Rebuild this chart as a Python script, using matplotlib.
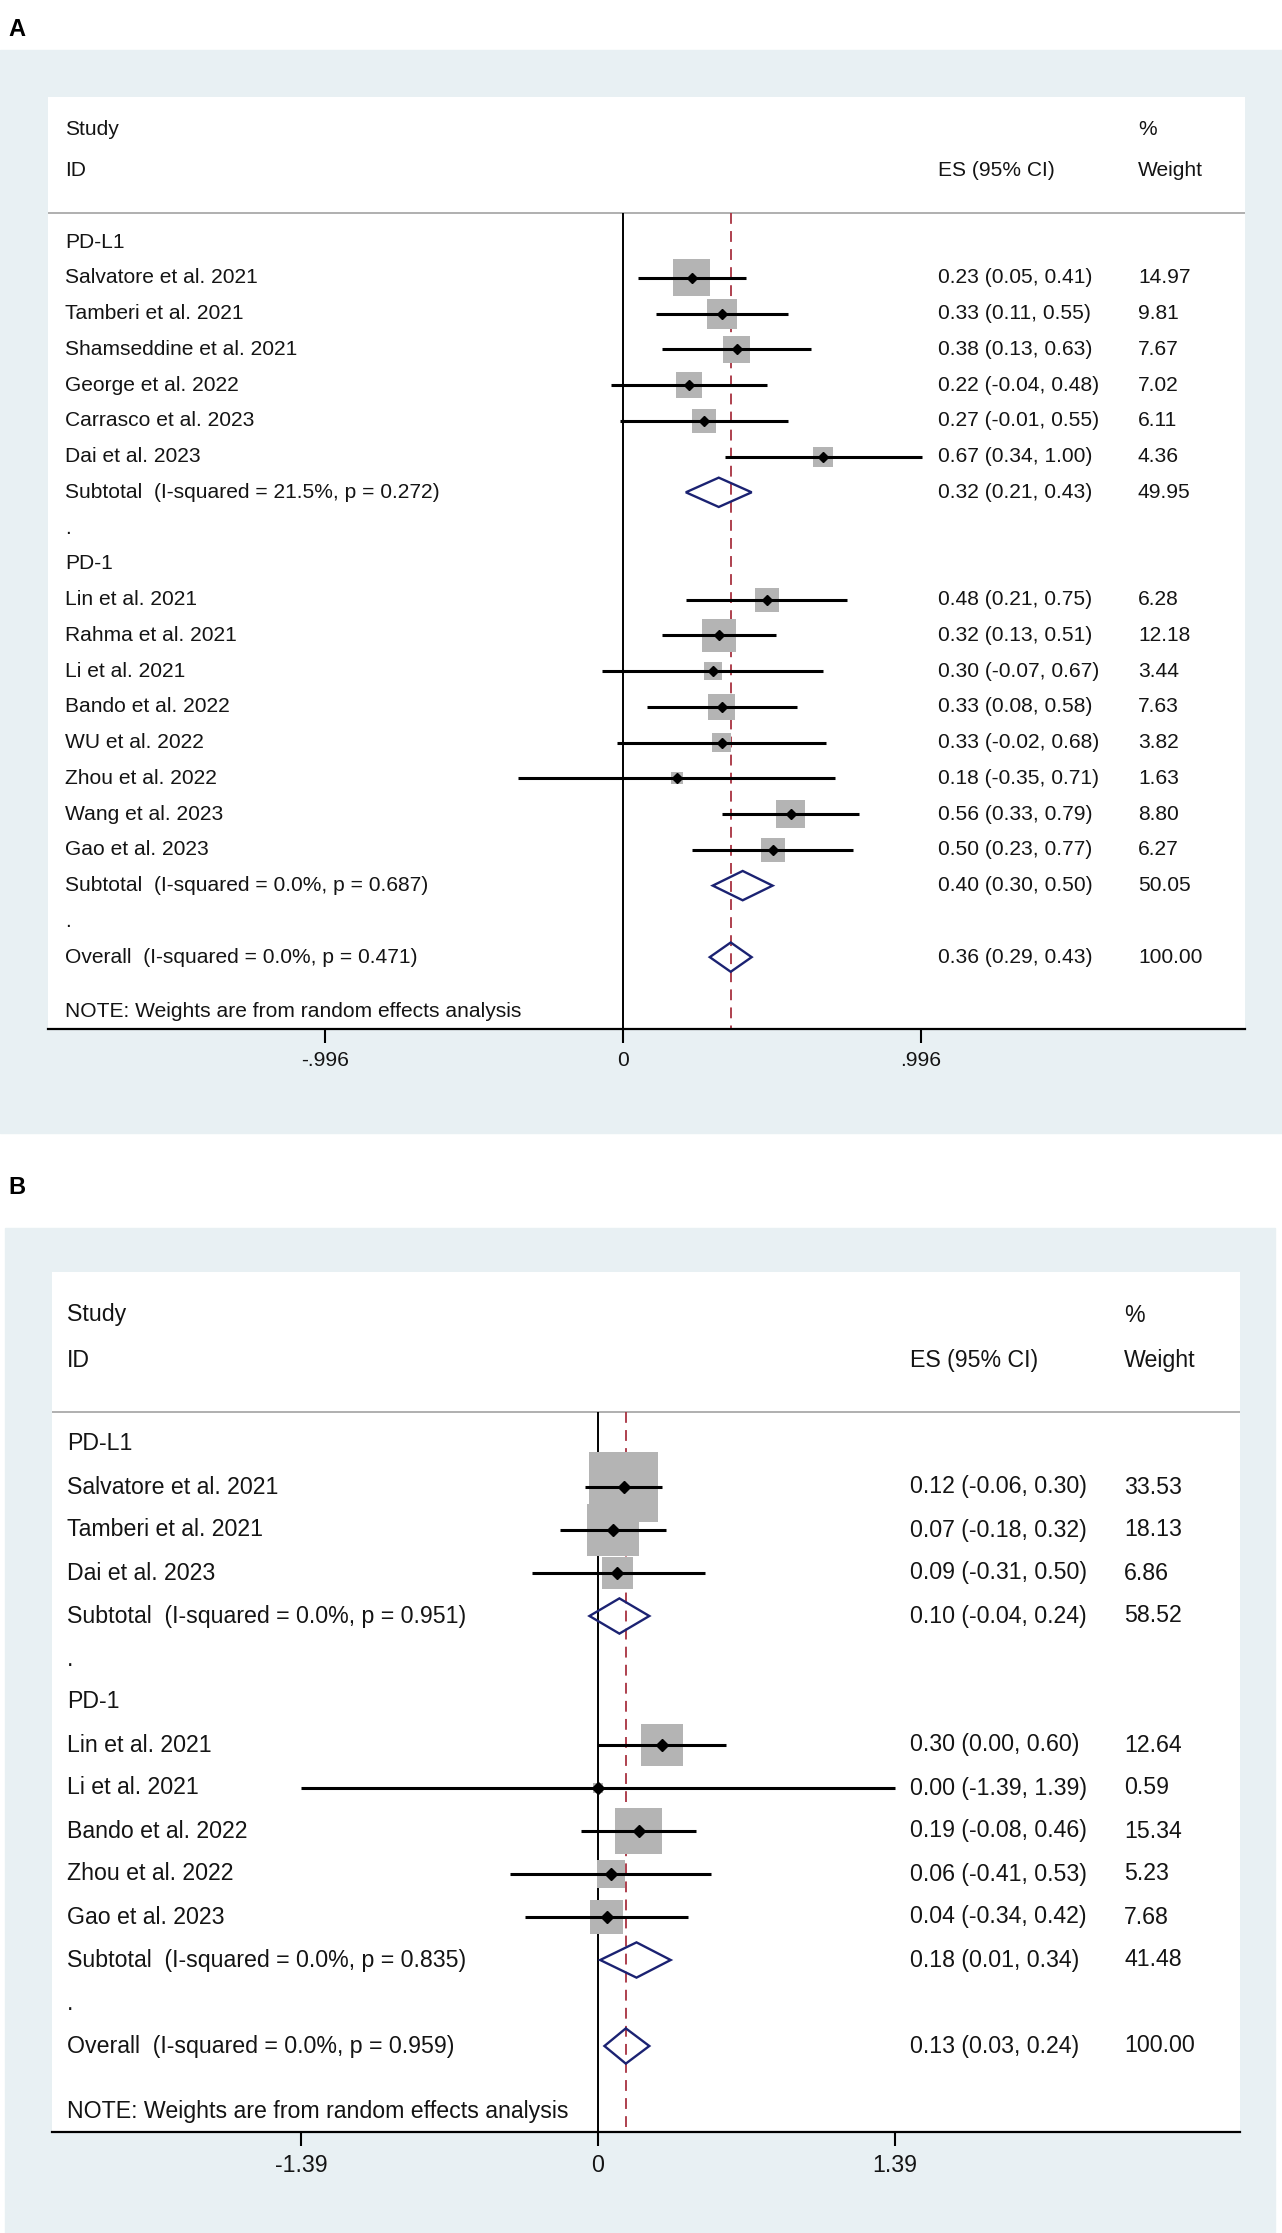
import numpy as np
import matplotlib
matplotlib.use("Agg")
import matplotlib.pyplot as plt
from matplotlib.patches import Rectangle, Polygon
from matplotlib.transforms import blended_transform_factory

plt.rcParams['font.family'] = ['Liberation Sans', 'DejaVu Sans']

# ---- panel A data ----
a_l1_names = ["Salvatore et al. 2021", "Tamberi et al. 2021", "Shamseddine et al. 2021",
              "George et al. 2022", "Carrasco et al. 2023", "Dai et al. 2023"]
a_l1_es = [0.23, 0.33, 0.38, 0.22, 0.27, 0.67]
a_l1_lo = [0.05, 0.11, 0.13, -0.04, -0.01, 0.34]
a_l1_hi = [0.41, 0.55, 0.63, 0.48, 0.55, 1.00]
a_l1_wt = [14.97, 9.81, 7.67, 7.02, 6.11, 4.36]
a_l1_sub = (0.32, 0.21, 0.43, 49.95, "21.5%", "0.272")

a_p1_names = ["Lin et al. 2021", "Rahma et al. 2021", "Li et al. 2021", "Bando et al. 2022",
              "WU et al. 2022", "Zhou et al. 2022", "Wang et al. 2023", "Gao et al. 2023"]
a_p1_es = [0.48, 0.32, 0.30, 0.33, 0.33, 0.18, 0.56, 0.50]
a_p1_lo = [0.21, 0.13, -0.07, 0.08, -0.02, -0.35, 0.33, 0.23]
a_p1_hi = [0.75, 0.51, 0.67, 0.58, 0.68, 0.71, 0.79, 0.77]
a_p1_wt = [6.28, 12.18, 3.44, 7.63, 3.82, 1.63, 8.80, 6.27]
a_p1_sub = (0.40, 0.30, 0.50, 50.05, "0.0%", "0.687")

a_overall = (0.36, 0.29, 0.43, 100.00, "0.0%", "0.471")
a_ticks = [-0.996, 0, 0.996]
a_ticklabels = ["-.996", "0", ".996"]

# ---- panel B data ----
b_l1_names = ["Salvatore et al. 2021", "Tamberi et al. 2021", "Dai et al. 2023"]
b_l1_es = [0.12, 0.07, 0.09]
b_l1_lo = [-0.06, -0.18, -0.31]
b_l1_hi = [0.30, 0.32, 0.50]
b_l1_wt = [33.53, 18.13, 6.86]
b_l1_sub = (0.10, -0.04, 0.24, 58.52, "0.0%", "0.951")

b_p1_names = ["Lin et al. 2021", "Li et al. 2021", "Bando et al. 2022",
              "Zhou et al. 2022", "Gao et al. 2023"]
b_p1_es = [0.30, 0.00, 0.19, 0.06, 0.04]
b_p1_lo = [0.00, -1.39, -0.08, -0.41, -0.34]
b_p1_hi = [0.60, 1.39, 0.46, 0.53, 0.42]
b_p1_wt = [12.64, 0.59, 15.34, 5.23, 7.68]
b_p1_sub = (0.18, 0.01, 0.34, 41.48, "0.0%", "0.835")

b_overall = (0.13, 0.03, 0.24, 100.00, "0.0%", "0.959")
b_ticks = [-1.39, 0, 1.39]
b_ticklabels = ["-1.39", "0", "1.39"]

W, H = 1282, 2233
BG = '#E8F0F3'
TXT = '#141414'
NAVY = '#1B2272'
RED = '#A83240'
BOX = '#B4B4B4'


def fig_rect(x0, y0, x1, y1):
    # pixel box (top-left origin) -> figure fraction
    return [x0 / W, 1 - y1 / H, (x1 - x0) / W, (y1 - y0) / H]


def forest(ax, groups, overall, ticks, ticklabels, fs, k_box, ms, cols, hdr):
    lab_x, es_x, wt_x = cols
    tr = blended_transform_factory(ax.transAxes, ax.transData)
    ybot = ax.get_ylim()[0]
    txt = dict(fontsize=fs, color=TXT, va='center', transform=tr, clip_on=False)

    # headers
    ax.text(lab_x, hdr[0], "Study", **txt)
    ax.text(lab_x, hdr[1], "ID", **txt)
    ax.text(es_x, hdr[1], "ES (95% CI)", **txt)
    ax.text(wt_x, hdr[0], "%", **txt)
    ax.text(wt_x, hdr[1], "Weight", **txt)
    ax.axhline(hdr[2], color='#A9A9A9', lw=1.3, zorder=1)

    # reference lines
    ax.vlines(0, hdr[2], ybot, color='black', lw=1.4, zorder=1)
    ax.vlines(overall[0], hdr[2], ybot, color=RED, lw=1.3,
              linestyles=(0, (6, 4)), zorder=1)

    def diamond(y, es, lo, hi):
        h = 0.41
        ax.add_patch(Polygon([(lo, y), (es, y - h), (hi, y), (es, y + h)], closed=True,
                             fill=False, edgecolor=NAVY, lw=1.7, zorder=4))

    row = 0
    for title, names, es, lo, hi, wt, sub in groups:
        ax.text(lab_x, row, title, **txt)
        row += 1
        ys = np.arange(row, row + len(names))
        sizes = (k_box * np.sqrt(np.array(wt)) * 0.72) ** 2
        ax.scatter(es, ys, s=sizes, marker='s', color=BOX, linewidths=0, zorder=2)
        ax.hlines(ys, lo, hi, color='black', lw=2.2, zorder=3)
        ax.plot(es, ys, 'D', ms=ms, color='black', zorder=5)
        for y, n, e, l, h, w in zip(ys, names, es, lo, hi, wt):
            ax.text(lab_x, y, n, **txt)
            ax.text(es_x, y, f"{e:.2f} ({l:.2f}, {h:.2f})", **txt)
            ax.text(wt_x, y, f"{w:.2f}", **txt)
        row += len(names)
        s_es, s_lo, s_hi, s_w, i2, p = sub
        diamond(row, s_es, s_lo, s_hi)
        ax.text(lab_x, row, f"Subtotal  (I-squared = {i2}, p = {p})", **txt)
        ax.text(es_x, row, f"{s_es:.2f} ({s_lo:.2f}, {s_hi:.2f})", **txt)
        ax.text(wt_x, row, f"{s_w:.2f}", **txt)
        ax.text(lab_x, row + 1, ".", **txt)
        row += 2

    o_es, o_lo, o_hi, o_w, i2, p = overall
    diamond(row, o_es, o_lo, o_hi)
    ax.text(lab_x, row, f"Overall  (I-squared = {i2}, p = {p})", **txt)
    ax.text(es_x, row, f"{o_es:.2f} ({o_lo:.2f}, {o_hi:.2f})", **txt)
    ax.text(wt_x, row, f"{o_w:.2f}", **txt)
    ax.text(lab_x, row + 1.53, "NOTE: Weights are from random effects analysis", **txt)

    for s in ['top', 'left', 'right']:
        ax.spines[s].set_visible(False)
    ax.spines['bottom'].set_linewidth(1.6)
    ax.spines['bottom'].set_zorder(6)
    ax.set_yticks([])
    ax.set_xticks(ticks)
    ax.set_xticklabels(ticklabels)
    ax.tick_params(axis='x', length=10, width=1.5, pad=6, labelsize=fs, labelcolor=TXT)


fig = plt.figure(figsize=(W / 100, H / 100), dpi=100)
fig.patch.set_facecolor('white')

# graph regions
fig.patches.append(Rectangle((0, 1 - 1133 / H), 1, (1133 - 50) / H,
                             transform=fig.transFigure, color=BG, zorder=-10))
fig.patches.append(Rectangle((5 / W, 0), (1275 - 5) / W, (2233 - 1228) / H,
                             transform=fig.transFigure, color=BG, zorder=-10))

fig.text(8 / W, 1 - 29 / H, "A", fontsize=17, fontweight='bold', va='center', color='black')
fig.text(8 / W, 1 - 1187 / H, "B", fontsize=17, fontweight='bold', va='center', color='black')

# panel A
axA = fig.add_axes(fig_rect(48, 97, 1245, 1029))
axA.set_xlim(-1.922, 2.079)
axA.set_ylim(22.01, -4.056)
forest(axA,
       [("PD-L1", a_l1_names, a_l1_es, a_l1_lo, a_l1_hi, a_l1_wt, a_l1_sub),
        ("PD-1", a_p1_names, a_p1_es, a_p1_lo, a_p1_hi, a_p1_wt, a_p1_sub)],
       a_overall, a_ticks, a_ticklabels, fs=15.1, k_box=9.6, ms=5.0,
       cols=(0.0142, 0.7435, 0.9106), hdr=(-3.15, -1.99, -0.81))

# panel B
axB = fig.add_axes(fig_rect(52, 1272, 1240, 2132))
axB.set_xlim(-2.555, 3.004)
axB.set_ylim(16.0, -4.0)
forest(axB,
       [("PD-L1", b_l1_names, b_l1_es, b_l1_lo, b_l1_hi, b_l1_wt, b_l1_sub),
        ("PD-1", b_p1_names, b_p1_es, b_p1_lo, b_p1_hi, b_p1_wt, b_p1_sub)],
       b_overall, b_ticks, b_ticklabels, fs=16.7, k_box=12.0, ms=6.0,
       cols=(0.0126, 0.7222, 0.9024), hdr=(-3.0, -1.95, -0.74))

fig.savefig("out.png", dpi=100)
